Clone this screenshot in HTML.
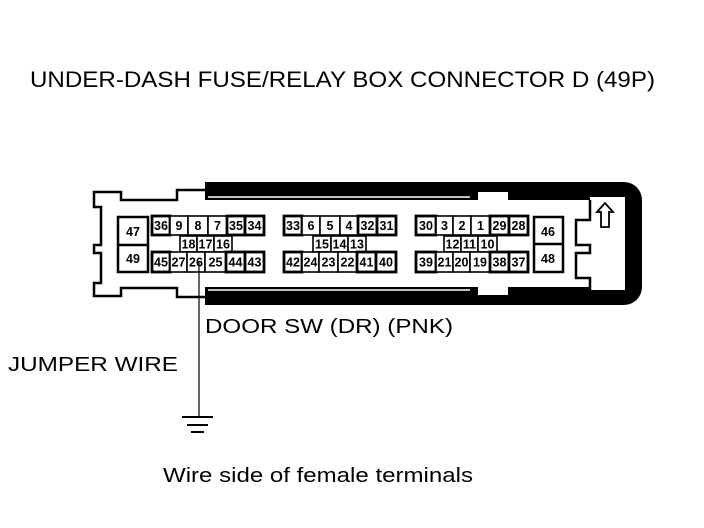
<!DOCTYPE html>
<html><head><style>
body{margin:0;background:#fff;width:704px;height:528px;overflow:hidden}
svg{position:absolute;left:0;top:0}
text{font-family:"Liberation Sans",sans-serif;fill:#000}
.p{font-size:12.5px;font-weight:bold;text-anchor:middle}
</style></head><body>
<svg width="704" height="528" viewBox="0 0 704 528">
<text x="30" y="87" font-size="22" textLength="625" lengthAdjust="spacingAndGlyphs">UNDER-DASH FUSE/RELAY BOX CONNECTOR D (49P)</text>
<path d="M205 182 H624 A18 18 0 0 1 642 200 V287 A18 18 0 0 1 624 305 H205 V287 H590 V290 H625 V197 H590 V200 H205 Z" fill="#000"/>
<line x1="208" y1="197" x2="470" y2="197" stroke="#fff" stroke-width="1.5"/>
<line x1="208" y1="290" x2="470" y2="290" stroke="#fff" stroke-width="1.5"/>
<rect x="478" y="192" width="30" height="8" fill="#fff"/>
<rect x="478" y="287" width="30" height="8" fill="#fff"/>
<path d="M205 190 H177 V200 H121 V192 H94 V207 H101 V245 H94 V253 H101 V283 H94 V296 H121 V288 H177 V297 H205" fill="none" stroke="#000" stroke-width="2.5"/>
<path d="M590 200 V220 H576 V245 H590 V253 H576 V278 H590 V290" fill="none" stroke="#000" stroke-width="2.5"/>
<path d="M605 203 L613 212 H609 V227 H601 V212 H597 Z" fill="#fff" stroke="#000" stroke-width="1.8"/>
<g fill="#fff" stroke="#000" stroke-width="2.5">
<rect x="118" y="217" width="30" height="55"/><line x1="118" y1="245" x2="148" y2="245"/>
<rect x="534" y="217" width="29" height="55"/><line x1="534" y1="244" x2="563" y2="244"/>
</g>
<text class="p" x="133" y="236" font-size="13">47</text><text class="p" x="133" y="263" font-size="13">49</text>
<text class="p" x="548" y="236" font-size="13">46</text><text class="p" x="548" y="263" font-size="13">48</text>
<g id="cells" fill="#fff" stroke="#000" stroke-width="1.6"></g>
<line x1="199" y1="262" x2="199" y2="417" stroke="#000" stroke-width="1.2"/>
<line x1="182" y1="417" x2="213" y2="417" stroke="#000" stroke-width="2"/>
<line x1="187" y1="425" x2="208" y2="425" stroke="#000" stroke-width="2"/>
<line x1="191" y1="432" x2="204" y2="432" stroke="#000" stroke-width="2"/>
<text x="205" y="333" font-size="20" textLength="248" lengthAdjust="spacingAndGlyphs">DOOR SW (DR) (PNK)</text>
<text x="8" y="371" font-size="20" textLength="170" lengthAdjust="spacingAndGlyphs">JUMPER WIRE</text>
<text x="163" y="482" font-size="20" textLength="310" lengthAdjust="spacingAndGlyphs">Wire side of female terminals</text>
</svg>
<script>
var g=document.getElementById('cells'),ns='http://www.w3.org/2000/svg';
function row(xs,labels,y,h,thick){for(var i=0;i<labels.length;i++){var r=document.createElementNS(ns,'rect');r.setAttribute('x',xs[i]);r.setAttribute('y',y);r.setAttribute('width',xs[i+1]-xs[i]);r.setAttribute('height',h);
if(thick&&(i==0||i>=labels.length-2))r.setAttribute('stroke-width','2.8');g.appendChild(r);
var t=document.createElementNS(ns,'text');t.setAttribute('class','p');t.setAttribute('x',(xs[i]+xs[i+1])/2);t.setAttribute('y',y+h/2+4.5);t.textContent=labels[i];g.parentNode.appendChild(t);}}
row([152,170,188,208,227,245,264],['36','9','8','7','35','34'],216,19,1);
row([180,197,214,232],['18','17','16'],236,16,0);
row([152,170,187,205,226,245,264],['45','27','26','25','44','43'],252,20,1);
row([284,302,320,340,358,377,396],['33','6','5','4','32','31'],216,19,1);
row([313,331,348,366],['15','14','13'],236,16,0);
row([284,302,319,338,357,376,396],['42','24','23','22','41','40'],252,20,1);
row([416,436,453,471,490,509,528],['30','3','2','1','29','28'],216,19,1);
row([444,461,478,497],['12','11','10'],236,16,0);
row([416,436,453,470,490,509,528],['39','21','20','19','38','37'],252,20,1);
</script>
</body></html>
